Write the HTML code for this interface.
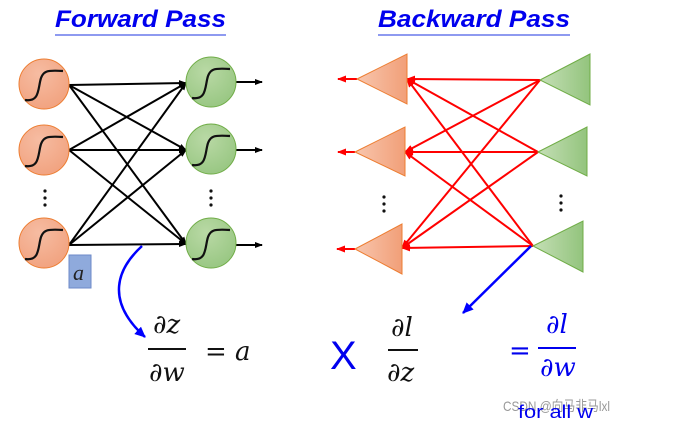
<!DOCTYPE html>
<html><head><meta charset="utf-8"><style>
body{margin:0;background:#fff;width:682px;height:423px;overflow:hidden;position:relative}
svg{position:absolute;left:0;top:0}
</style></head><body>
<svg width="682" height="423" viewBox="0 0 682 423">
<defs>
<marker id="ak" markerWidth="8" markerHeight="8" refX="7" refY="4" orient="auto" markerUnits="userSpaceOnUse"><path d="M0,1 L8,4 L0,7z" fill="#000"/></marker>
<marker id="ar" markerWidth="9" markerHeight="9" refX="8" refY="4.5" orient="auto" markerUnits="userSpaceOnUse"><path d="M0,1 L9,4.5 L0,8z" fill="#f00"/></marker>
<marker id="ab" markerWidth="12" markerHeight="12" refX="10" refY="6" orient="auto" markerUnits="userSpaceOnUse"><path d="M0,1 L11,6 L0,11z" fill="#00f"/></marker>
<linearGradient id="og" x1="0" x2="1"><stop offset="0" stop-color="#f8c6ae"/><stop offset="1" stop-color="#f19f78"/></linearGradient>
<linearGradient id="gg" x1="0" x2="1"><stop offset="0" stop-color="#c5dfb6"/><stop offset="1" stop-color="#93c47d"/></linearGradient>
<radialGradient id="oc" cx="0.4" cy="0.3" r="0.8"><stop offset="0" stop-color="#f6bca2"/><stop offset="1" stop-color="#f1a07c"/></radialGradient>
<radialGradient id="gc" cx="0.4" cy="0.3" r="0.8"><stop offset="0" stop-color="#b9d9a5"/><stop offset="1" stop-color="#95c57f"/></radialGradient>
</defs>
<g font-family="Liberation Sans, sans-serif" font-style="italic" font-weight="bold" font-size="24" fill="#0000ee">
<text x="55" y="27" textLength="171" lengthAdjust="spacingAndGlyphs">Forward Pass</text>
<text x="378" y="27" textLength="192" lengthAdjust="spacingAndGlyphs">Backward Pass</text>
</g>
<line x1="55" y1="35" x2="226" y2="35" stroke="#4a5ee8" stroke-width="1.2"/>
<line x1="378" y1="35" x2="570" y2="35" stroke="#4a5ee8" stroke-width="1.2"/>
<g stroke="#000" stroke-width="2" marker-end="url(#ak)">
<line x1="69" y1="85" x2="186" y2="83"/><line x1="69" y1="85" x2="186" y2="150"/><line x1="69" y1="85" x2="186" y2="244"/>
<line x1="69" y1="150" x2="186" y2="83"/><line x1="69" y1="150" x2="186" y2="150"/><line x1="69" y1="150" x2="186" y2="244"/>
<line x1="69" y1="245" x2="186" y2="83"/><line x1="69" y1="245" x2="186" y2="150"/><line x1="69" y1="245" x2="186" y2="244"/>
<line x1="236" y1="82" x2="262" y2="82"/><line x1="236" y1="150" x2="262" y2="150"/><line x1="236" y1="245" x2="262" y2="245"/>
</g>
<g stroke="#ed7d31" stroke-width="1" fill="url(#oc)">
<circle cx="44" cy="84" r="25"/><circle cx="44" cy="150" r="25"/><circle cx="44" cy="243" r="25"/>
</g>
<g stroke="#70ad47" stroke-width="1" fill="url(#gc)">
<circle cx="211" cy="82" r="25"/><circle cx="211" cy="149" r="25"/><circle cx="211" cy="243" r="25"/>
</g>
<g stroke="#111" stroke-width="2.2" fill="none">
<path d="M25,100 C38,102 38,92 40,82 C42,70 48,70 63,71"/>
<path d="M25,166 C38,168 38,158 40,148 C42,136 48,136 63,137"/>
<path d="M25,259 C38,261 38,251 40,241 C42,229 48,229 63,230"/>
<path d="M192,98 C205,100 205,90 207,80 C209,68 215,68 230,69"/>
<path d="M192,165 C205,167 205,157 207,147 C209,135 215,135 230,136"/>
<path d="M192,259 C205,261 205,251 207,241 C209,229 215,229 230,230"/>
</g>
<g fill="#111">
<circle cx="45" cy="191" r="1.6"/><circle cx="45" cy="198" r="1.6"/><circle cx="45" cy="205" r="1.6"/>
<circle cx="211" cy="191" r="1.6"/><circle cx="211" cy="198" r="1.6"/><circle cx="211" cy="205" r="1.6"/>
<circle cx="384" cy="197" r="1.6"/><circle cx="384" cy="204" r="1.6"/><circle cx="384" cy="211" r="1.6"/>
<circle cx="561" cy="196" r="1.6"/><circle cx="561" cy="203" r="1.6"/><circle cx="561" cy="210" r="1.6"/>
</g>
<rect x="69" y="255" width="22" height="33" fill="#8faadc" stroke="#6d8ac8"/>
<text x="73" y="280" font-family="Liberation Serif, serif" font-style="italic" font-size="22" fill="#222">a</text>
<g stroke="#f00" stroke-width="2" marker-end="url(#ar)">
<line x1="540" y1="80" x2="407" y2="79"/><line x1="540" y1="80" x2="405" y2="152"/><line x1="540" y1="80" x2="402" y2="248"/>
<line x1="538" y1="152" x2="407" y2="79"/><line x1="538" y1="152" x2="405" y2="152"/><line x1="538" y1="152" x2="402" y2="248"/>
<line x1="533" y1="246" x2="407" y2="79"/><line x1="533" y1="246" x2="405" y2="152"/><line x1="533" y1="246" x2="402" y2="248"/>
<line x1="357" y1="79" x2="338" y2="79"/><line x1="355" y1="152" x2="338" y2="152"/><line x1="355" y1="249" x2="337" y2="249"/>
</g>
<g stroke="#ed7d31" stroke-width="1" fill="url(#og)">
<path d="M357,79 L407,54 L407,104z"/><path d="M355,152 L405,127 L405,176z"/><path d="M355,249 L402,224 L402,274z"/>
</g>
<g stroke="#70ad47" stroke-width="1" fill="url(#gg)">
<path d="M540,80 L590,54 L590,105z"/><path d="M538,152 L587,127 L587,176z"/><path d="M533,246 L583,221 L583,272z"/>
</g>
<path d="M142,246 C118,268 104,300 145,337" stroke="#00f" stroke-width="2.5" fill="none" marker-end="url(#ab)"/>
<line x1="531" y1="246" x2="463" y2="313" stroke="#00f" stroke-width="2.5" marker-end="url(#ab)"/>
<g font-family="DejaVu Serif, Liberation Serif, serif" font-style="italic" font-size="26" fill="#111">
<text x="153" y="333">∂z</text>
<text x="149" y="381">∂w</text>
<text x="205" y="360">= a</text>
<text x="391" y="336">∂l</text>
<text x="387" y="381">∂z</text>
</g>
<line x1="148" y1="349" x2="186" y2="349" stroke="#111" stroke-width="2"/>
<line x1="388" y1="350" x2="418" y2="350" stroke="#111" stroke-width="2"/>
<text x="330" y="369" font-family="Liberation Sans, sans-serif" font-size="40" fill="#0000ee">X</text>
<g font-family="DejaVu Serif, Liberation Serif, serif" font-style="italic" font-size="26" fill="#0000ee">
<text x="546" y="333">∂l</text>
<text x="540" y="376">∂w</text>
</g>
<text x="509" y="359" font-family="DejaVu Sans, sans-serif" font-size="26" fill="#0000ee">=</text>
<line x1="538" y1="348" x2="576" y2="348" stroke="#0000ee" stroke-width="2"/>
<text x="503" y="411" font-family="Liberation Sans, Noto Sans CJK SC, sans-serif" font-size="14" fill="#999" textLength="107" lengthAdjust="spacingAndGlyphs">CSDN @向马非马lxl</text>
<text x="518" y="418" font-family="Liberation Sans, sans-serif" font-size="18" fill="#0000ee" textLength="75" lengthAdjust="spacingAndGlyphs">for all w</text>
</svg>
</body></html>
